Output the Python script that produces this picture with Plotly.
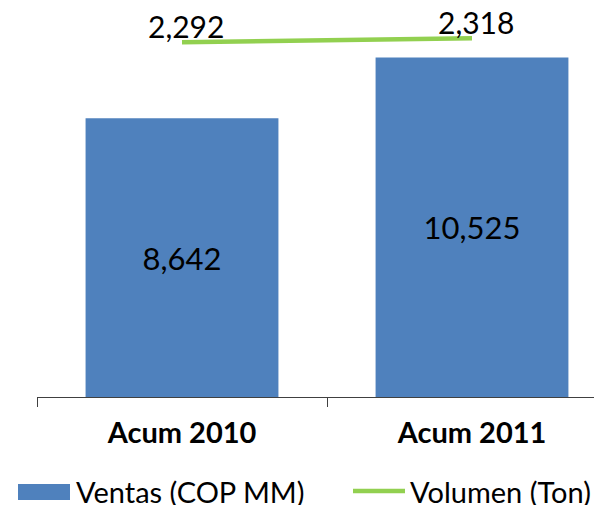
import plotly.graph_objects as go

categories = ["Acum 2010", "Acum 2011"]
ventas = [8642, 10525]
volumen = [2292, 2318]
ventas_name = "Ventas (COP MM)"
volumen_name = "Volumen (Ton)"

BLUE = "#4F81BD"
GREEN = "#92D050"
FONT = "Lato, Carlito, 'Open Sans', sans-serif"

# page body has an 8px margin; figure is sized to fit the 602x505 window
OFF = 8
W, H = 602 - OFF, 505 - OFF
L, R, T, B = 37 - OFF, 0, 10 - OFF, 108

def px(x):
    # x given in window pixels
    return (x - OFF - L) / (W - L - R)

def py(y):
    return (H - B - (y - OFF)) / (H - T - B)

fig = go.Figure()
fig.add_trace(go.Bar(
    x=categories, y=ventas, name=ventas_name,
    marker=dict(color=BLUE, line=dict(width=0)),
    width=0.665,
    text=[f"{v:,}" for v in ventas],
    textposition="inside", insidetextanchor="middle",
    textfont=dict(family=FONT, size=31, color="black"),
    showlegend=False, yaxis="y",
))
fig.add_trace(go.Scatter(
    x=categories, y=volumen, name=volumen_name,
    mode="lines",
    line=dict(color=GREEN, width=4.5),
    showlegend=False, yaxis="y2", cliponaxis=False,
))

shapes = [
    dict(type="rect", xref="paper", yref="paper",
         x0=px(18), x1=px(70), y0=py(500), y1=py(484),
         fillcolor=BLUE, line=dict(width=0)),
    dict(type="line", xref="paper", yref="paper",
         x0=px(353), x1=px(405), y0=py(491), y1=py(491),
         line=dict(color=GREEN, width=4.5)),
]
annotations = [
    dict(xref="paper", yref="paper", x=px(74), y=py(491), text=ventas_name,
         showarrow=False, xanchor="left", yanchor="middle",
         font=dict(family=FONT, size=29, color="black")),
    dict(xref="paper", yref="paper", x=px(408), y=py(491), text=volumen_name,
         showarrow=False, xanchor="left", yanchor="middle",
         font=dict(family=FONT, size=29, color="black")),
]
for c, v in zip(categories, volumen):
    annotations.append(dict(
        xref="x", yref="y2", x=c, y=v, text=f"{v:,}",
        showarrow=False, xanchor="center", yanchor="middle",
        xshift=4, yshift=16,
        font=dict(family=FONT, size=30, color="black"),
    ))

fig.update_layout(
    width=W, height=H,
    margin=dict(l=L, r=R, t=T, b=B, pad=0),
    paper_bgcolor="white", plot_bgcolor="white",
    showlegend=False,
    xaxis=dict(
        range=[-0.5, -0.5 + (W - L - R) / 290.0],
        showline=True, linecolor="#404040", linewidth=1,
        ticks="outside", tickson="boundaries", ticklen=9, tickcolor="#404040",
        tickfont=dict(family=FONT, size=29, color="black", weight="bold"),
        ticklabelstandoff=10,
        showgrid=False, zeroline=False,
    ),
    yaxis=dict(range=[0, 12000], visible=False, showgrid=False, zeroline=False),
    yaxis2=dict(range=[0, 2500], overlaying="y", side="right", visible=False,
                showgrid=False, zeroline=False),
    shapes=shapes,
    annotations=annotations,
)

fig.write_html("out.html")
